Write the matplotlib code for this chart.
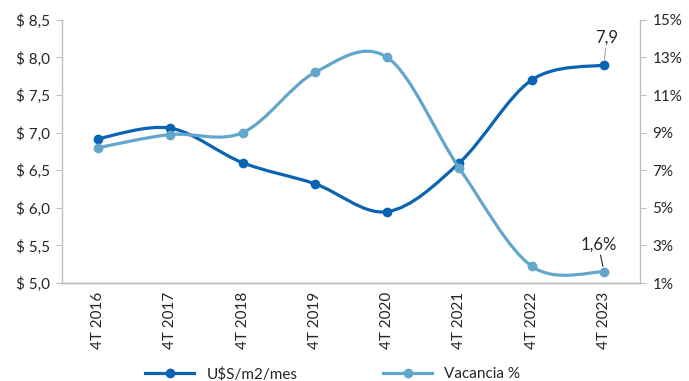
import numpy as np
import matplotlib.pyplot as plt
from matplotlib.path import Path
from matplotlib.patches import PathPatch
from matplotlib.lines import Line2D
from matplotlib.ticker import FuncFormatter

DARK = "#0b63b4"
LIGHT = "#63a6cc"
AXIS = "#bfbfbf"
TEXT = "#262626"

periodos = ["4T 2016", "4T 2017", "4T 2018", "4T 2019",
            "4T 2020", "4T 2021", "4T 2022", "4T 2023"]
precio = [6.92, 7.06, 6.60, 6.32, 5.95, 6.60, 7.70, 7.90]      # U$S/m2/mes
vacancia = [8.2, 8.9, 9.0, 12.2, 13.0, 7.1, 1.9, 1.6]          # %

plt.rcParams["font.family"] = ["Lato", "DejaVu Sans"]
plt.rcParams["font.size"] = 11


def smooth_path(xs, ys):
    """Curva suavizada tipo Excel (Catmull-Rom -> Bezier cubica)."""
    pts = np.column_stack([xs, ys]).astype(float)
    n = len(pts)
    verts = [pts[0]]
    codes = [Path.MOVETO]
    for i in range(n - 1):
        p0 = pts[i - 1] if i > 0 else pts[i]
        p1 = pts[i]
        p2 = pts[i + 1]
        p3 = pts[i + 2] if i + 2 < n else pts[i + 1]
        c1 = p1 + (p2 - p0) / 6.0
        c2 = p2 - (p3 - p1) / 6.0
        verts += [c1, c2, p2]
        codes += [Path.CURVE4] * 3
    return Path(verts, codes)


fig = plt.figure(figsize=(6.89, 3.81), dpi=100)
ax = fig.add_axes([0.090, 0.257, 0.839, 0.691])
ax2 = ax.twinx()

x = np.arange(len(periodos))

# serie de precio (eje izquierdo)
ax.add_patch(PathPatch(smooth_path(x, precio), fill=False, edgecolor=DARK,
                       lw=2.3, capstyle="round", zorder=3))
ax.plot(x, precio, "o", color=DARK, ms=6, zorder=4)

# serie de vacancia (eje derecho)
ax2.add_patch(PathPatch(smooth_path(x, vacancia), fill=False, edgecolor=LIGHT,
                        lw=2.3, capstyle="round", zorder=3))
ax2.plot(x, vacancia, "o", color=LIGHT, ms=6, zorder=4)

ax.set_xlim(-0.5, len(periodos) - 0.5)
ax.set_ylim(5.0, 8.5)
ax.set_yticks(np.arange(5.0, 8.51, 0.5))
ax.yaxis.set_major_formatter(FuncFormatter(lambda v, p: f"$ {v:.1f}".replace(".", ",")))
ax2.set_ylim(1, 15)
ax2.set_yticks(np.arange(1, 16, 2))
ax2.yaxis.set_major_formatter(FuncFormatter(lambda v, p: f"{v:.0f}%"))

ax.set_xticks(x)
ax.set_xticklabels(periodos, rotation=90)

for a in (ax, ax2):
    a.spines["top"].set_visible(False)
    for s in ("left", "right", "bottom"):
        a.spines[s].set_color(AXIS)
        a.spines[s].set_linewidth(1.0)
    a.tick_params(colors=TEXT, labelsize=11, length=4, color=AXIS)
ax.tick_params(axis="x", length=0, pad=6)
ax.tick_params(axis="y", pad=5)
ax2.tick_params(axis="y", pad=5)
ax2.spines["left"].set_visible(False)
ax.spines["right"].set_visible(False)

# etiquetas del ultimo dato
ax.annotate(f"{precio[-1]:.1f}".replace(".", ","), xy=(x[-1], precio[-1]),
            xytext=(2, 14), textcoords="offset points", ha="center", va="bottom",
            fontsize=12, color=TEXT,
            arrowprops=dict(arrowstyle="-", color="#a6a6a6", lw=0.8,
                            shrinkA=0, shrinkB=4))
ax2.annotate(f"{vacancia[-1]:.1f}%".replace(".", ","), xy=(x[-1], vacancia[-1]),
             xytext=(-4, 14), textcoords="offset points", ha="center", va="bottom",
             fontsize=12, color=TEXT,
             arrowprops=dict(arrowstyle="-", color="#262626", lw=0.8,
                             shrinkA=0, shrinkB=4))

handles = [Line2D([], [], color=DARK, lw=2.3, marker="o", ms=6),
           Line2D([], [], color=LIGHT, lw=2.3, marker="o", ms=6)]
fig.legend(handles, ["U$S/m2/mes", "Vacancia %"], loc="center",
           bbox_to_anchor=(0.483, 0.018), ncol=2, frameon=False,
           handlelength=3.2, columnspacing=5.6, fontsize=11, labelcolor=TEXT)

fig.savefig("out.png", dpi=100)
